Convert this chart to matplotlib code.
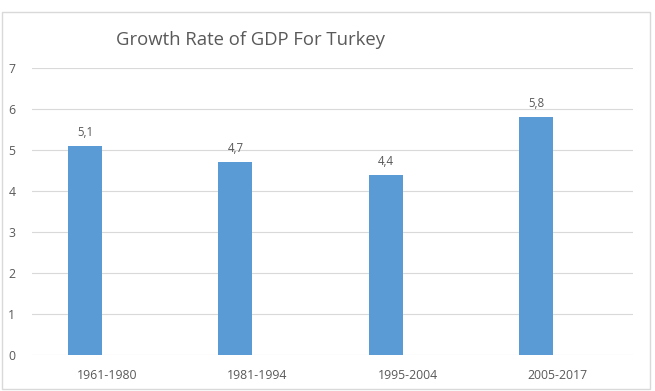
import matplotlib
matplotlib.use("Agg")
import matplotlib.pyplot as plt
from matplotlib.patches import Rectangle
import numpy as np

categories = ["1961-1980", "1981-1994", "1995-2004", "2005-2017"]
values = [5.1, 4.7, 4.4, 5.8]
value_labels = ["5,1", "4,7", "4,4", "5,8"]
yticks = [0, 1, 2, 3, 4, 5, 6, 7]
title = "Growth Rate of GDP For Turkey"

plt.rcParams['font.family'] = ['Open Sans', 'DejaVu Sans']
W, H = 655, 391
fig = plt.figure(figsize=(W/100, H/100), dpi=100)
fig.patches.append(Rectangle((2/W, 2/H), 648/W, 377/H, transform=fig.transFigure,
                             fill=False, edgecolor='#D9D9D9', linewidth=1))

ax = fig.add_axes([32/W, (H-355)/H, 601/W, 287/H])
x = np.arange(len(categories))
offset = -0.146
ax.bar(x + offset, values, width=0.226, color='#5B9BD5', zorder=3)
for xi, v, lab in zip(x, values, value_labels):
    ax.annotate(lab, (xi + offset, v), xytext=(0, 5), textcoords='offset points',
                ha='center', va='bottom', fontsize=8.3, color='#595959')
ax.set_xlim(-0.5, len(categories) - 0.5)
ax.set_ylim(0, 7)
ax.set_yticks(yticks)
ax.set_yticklabels([str(t) for t in yticks])
ax.set_xticks(x)
ax.set_xticklabels(categories)
ax.grid(axis='y', color='#D9D9D9', linewidth=0.8, zorder=0)
for s in ax.spines.values():
    s.set_visible(False)
ax.tick_params(axis='both', length=0, labelsize=8.8, colors='#595959')
ax.tick_params(axis='y', pad=12)
ax.tick_params(axis='x', pad=10)
fig.text(251/W, (H-40)/H, title, ha='center', va='center', fontsize=13.3, color='#595959')
fig.savefig("out.png", dpi=100)
